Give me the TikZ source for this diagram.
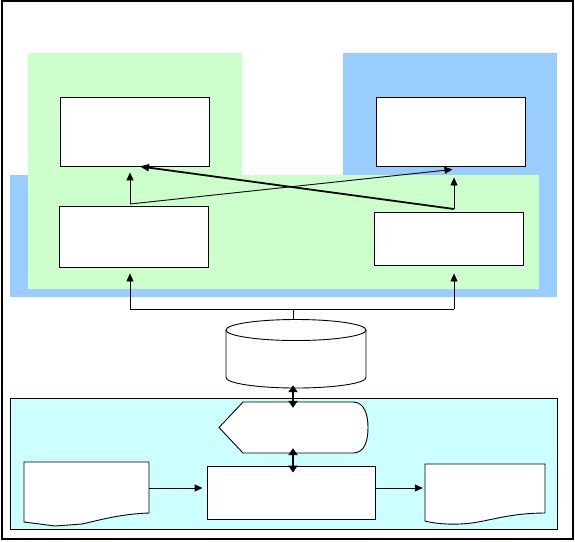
\documentclass[tikz,border=0pt]{standalone}
\usetikzlibrary{arrows.meta,calc}
\definecolor{pgreen}{RGB}{204,255,204}
\definecolor{pblue}{RGB}{153,204,255}
\definecolor{pcyan}{RGB}{204,255,255}
\tikzset{
  box/.style={draw, fill=white, line width=0.9pt, inner sep=0pt, minimum width=149pt},
  ghost/.style={inner sep=0pt},
  arr/.style={-{Triangle[length=8pt,width=7pt]}, line width=0.9pt},
  tarr/.style={-{Triangle[length=9pt,width=7pt]}, line width=1.8pt},
  dbl/.style={{Triangle[length=7pt,width=9pt]}-{Triangle[length=7pt,width=9pt]}, line width=2.6pt},
  shp/.style={draw, fill=white, line width=0.9pt},
}
\begin{document}
\begin{tikzpicture}[x=1pt,y=1pt]
\useasboundingbox (0,0) rectangle (575,-541);
% outer frame
\draw[line width=1.2pt] (2,-1) rectangle (573,-539);
% blue background
\fill[pblue] (10,-175) -- (343,-175) -- (343,-53) -- (557,-53) -- (557,-297) -- (10,-297) -- cycle;
% green background
\fill[pgreen] (28,-53) -- (242,-53) -- (242,-175) -- (539,-175) -- (539,-289) -- (28,-289) -- cycle;
% cyan region
\node[draw, fill=pcyan, line width=0.9pt, inner sep=0pt, minimum width=547pt, minimum height=131pt] (region) at (283.5,-463.5) {};
% boxes
\node[box, minimum height=69pt] (TL) at (134.5,-131.5) {};
\node[box, minimum height=61pt] (BL) at (133.5,-236.5) {};
\node[box, minimum height=69pt] (TR) at (450.5,-131.5) {};
\node[box, minimum height=53pt] (BR) at (448.5,-238.5) {};
% junction coordinates
\coordinate (bl1) at (130,-204);
\coordinate (br1) at (454,-209);
\draw[arr] (bl1) -- ($(bl1 |- TL.south)+(0,-6)$);
\draw[arr] (bl1) -- ($(TR.south)+(2,-3)$);
\draw[arr] (br1) -- ($(br1 |- TR.south)+(0,-11)$);
\draw[tarr] (br1) -- ($(TL.south)+(5.5,0)$);
% cylinder
\node[ghost, minimum width=140pt, minimum height=69pt] (cyl) at (296,-353.5) {};
\fill[white] (226,-330) -- (226,-377.5) arc (180:360:70 and 10.5) -- (366,-330) arc (0:180:70 and 10.5) -- cycle;
\draw[line width=0.9pt] (226,-330) -- (226,-377.5) arc (180:360:70 and 10.5) -- (366,-330);
\draw[line width=0.9pt] (296,-330) ellipse (70 and 10.5);
% bus
\coordinate (busL) at (130,-309);
\coordinate (busR) at (454,-309);
\draw[line width=0.9pt] (busL) -- (busR);
\draw[line width=0.9pt] ($(cyl.north)+(-3,0)$) -- ($(cyl.north |- busL)+(-3,0)$);
\draw[arr] (busL) -- ($(busL |- BL.south)+(0,-6)$);
\draw[arr] (busR) -- ($(busR |- BR.south)+(0,-8)$);
% display shape
\node[ghost, minimum width=149pt, minimum height=51pt] (disp) at (293.5,-427.5) {};
\draw[shp] (219,-427.5) -- (243,-402) -- (353,-402) .. controls (365,-402) and (368,-416) .. (368,-427.5) .. controls (368,-440) and (365,-453) .. (353,-453) -- (243,-453) -- cycle;
% process box
\node[box, minimum width=168pt, minimum height=53pt] (proc) at (291,-492.5) {};
% documents
\node[ghost, minimum width=125pt, minimum height=64pt] (docL) at (86.5,-494) {};
\draw[shp] (24,-462) -- (149,-462) -- (149,-513) .. controls (120,-514) and (100,-520) .. (82,-524) -- (55,-526) -- (24,-522) -- cycle;
\node[ghost, minimum width=120pt, minimum height=61pt] (docR) at (485,-494.5) {};
\draw[shp] (425,-464) -- (545,-464) -- (545,-513) .. controls (515,-513) and (495,-519) .. (478,-522) .. controls (462,-525) and (440,-525) .. (425,-521) -- cycle;
% double arrows
\draw[dbl] ($(cyl.south)+(-3,3)$) -- ($(disp.north)+(-0.5,-6)$);
\draw[dbl] ($(disp.south)+(-0.5,5)$) -- ($(proc.north)+(2,-7)$);
% doc arrows
\draw[arr] ($(docL.east)+(0,6)$) -- ($(proc.west |- docL.east)+(-4,6)$);
\draw[arr] ($(proc.east)+(0,4.5)$) -- ($(docR.west |- proc.east)+(-2,4.5)$);
\end{tikzpicture}
\end{document}
